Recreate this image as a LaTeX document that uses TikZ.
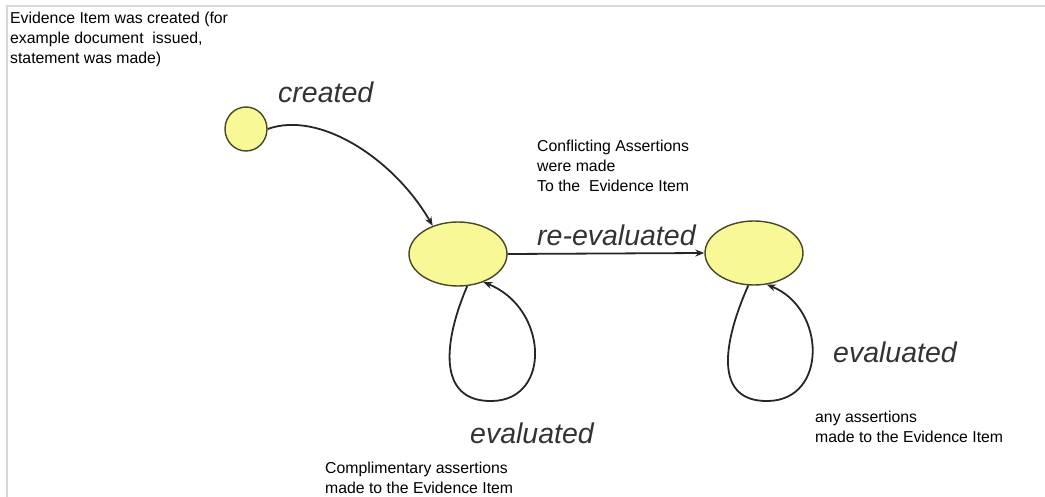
\documentclass[tikz,border=0pt]{standalone}
\usepackage{fontspec}
\setmainfont{Liberation Sans}
\usetikzlibrary{arrows.meta,shapes.geometric}
\definecolor{statefill}{RGB}{248,248,150}
\definecolor{stateline}{RGB}{70,70,40}
\definecolor{frameline}{RGB}{215,215,215}
\tikzset{
  state/.style={ellipse, draw=stateline, fill=statefill, line width=1.4pt,
    minimum width=98pt, minimum height=64pt, inner sep=0pt},
  initstate/.style={state, minimum width=42pt, minimum height=44pt},
  trans/.style={line width=1.8pt, draw=black!85, -{Stealth[length=9pt,width=7pt]}},
  biglabel/.style={font=\fontsize{28.5}{34}\selectfont\itshape, inner sep=0pt, anchor=base west, text=black!80},
  note/.style={font=\fontsize{15.8}{20}\selectfont, inner sep=0pt, anchor=base west, align=left, text=black}
}
\begin{document}
\begin{tikzpicture}[x=1pt, y=-1pt]
  \useasboundingbox (0,0) rectangle (1045,497);
  % frame edges
  \draw[frameline, line width=1.5pt] (7,497) -- (7,6) -- (1045,6);

  % states
  \node[initstate] (start) at (246,129) {};
  \node[state] (s1) at (458,254) {};
  \node[state] (s2) at (754,253) {};

  % transitions
  \draw[trans] (start.east) .. controls (320,110) and (395,160) .. (s1.132);
  \draw[trans] (s1.east) -- (s2.west);
  \draw[trans] (s1.-74) .. controls (444,340) and (436,402) .. (492,401)
               .. controls (552,400) and (548,308) .. (s1.-48);
  \draw[trans] (s2.-100) .. controls (724,340) and (712,402) .. (768,401)
               .. controls (828,400) and (826,308) .. (s2.-68);

  % transition labels
  \node[biglabel] (lcreated) at (278,103) {created};
  \node[biglabel] (lreeval) at (537,246) {re-evaluated};
  \node[biglabel] (leval1) at (470,443) {evaluated};
  \node[biglabel] (leval2) at (833,362) {evaluated};

  % notes (anchored at the baseline of their last line)
  \node[note] (ncreated) at (10,64) {Evidence Item was created (for\\example document\ \ issued,\\statement was made)};
  \node[note] (nconflict) at (537,192) {Conflicting Assertions\\were made\\To the\ \ Evidence Item};
  \node[note] (ncompl) at (325,493) {Complimentary assertions\\made to the Evidence Item};
  \node[note] (nany) at (815,442) {any assertions\\made to the Evidence Item};
\end{tikzpicture}
\end{document}
